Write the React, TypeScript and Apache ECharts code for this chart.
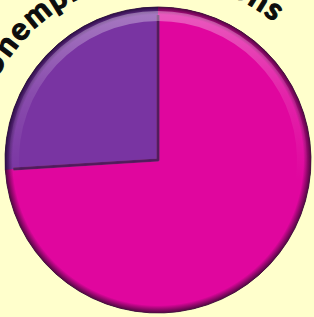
import React, { useEffect, useRef } from "react";
import * as echarts from "echarts";

const categories = ["Persons A", "Persons B"];
const values = [74, 26];
const faceColors = ["#E0069E", "#7934A2"];
const rimDark = ["#4E0840", "#2A0E42"];
const edgeColors = ["rgba(255,110,205,0.6)", "rgba(45,12,70,0.75)"];
const titleText = "Unemployed Persons";

export default function App() {
  const ref = useRef<HTMLDivElement>(null);
  useEffect(() => {
    if (!ref.current) return;
    const chart = echarts.init(ref.current, undefined, { renderer: "svg" });
    const cx = 158, cy = 160, PR = 153;
    const acx = 158, acy = 162, R = 178;
    const font = "bold 31px Lato";
    const ctx = document.createElement("canvas").getContext("2d")!;
    ctx.font = font;
    const chars = titleText.split("");
    const widths = chars.map((c) => ctx.measureText(c).width);
    const base: number[] = [];
    let acc = 0;
    widths.forEach((w) => { base.push(acc + w / 2); acc += w; });
    const i1 = 1, i2 = 16;
    const a1 = (-52.5 * Math.PI) / 180, a2 = (32 * Math.PI) / 180;
    const sp = ((a2 - a1) * R - (base[i2] - base[i1])) / (i2 - i1);
    const off = a1 - (base[i1] + i1 * sp) / R;
    const letters = chars.map((c, i) => {
      const th = (base[i] + i * sp) / R + off;
      return {
        type: "text",
        x: acx + R * Math.sin(th),
        y: acy - R * Math.cos(th),
        rotation: -th,
        z: 0,
        style: {
          text: c,
          font,
          fill: "#0d0d0d",
          stroke: "#0d0d0d",
          lineWidth: 1.2,
          align: "center",
          verticalAlign: "bottom",
          shadowColor: "rgba(0,0,0,0.35)",
          shadowBlur: 2,
          shadowOffsetX: 1,
          shadowOffsetY: 1,
        },
      };
    });
    const radial = (i: number) =>
      new echarts.graphic.RadialGradient(cx, cy, PR, [
        { offset: 0, color: faceColors[i] },
        { offset: 0.95, color: faceColors[i] },
        { offset: 1, color: rimDark[i] },
      ], true);
    const highlight = new echarts.graphic.LinearGradient(0, cy - PR, 0, cy + 20, [
      { offset: 0, color: "rgba(255,255,255,0.35)" },
      { offset: 0.5, color: "rgba(255,255,255,0.12)" },
      { offset: 1, color: "rgba(255,255,255,0)" },
    ], true);
    const common = {
      type: "pie",
      center: [cx, cy],
      startAngle: 90,
      clockwise: true,
      label: { show: false },
      labelLine: { show: false },
      silent: true,
    };
    chart.setOption({
      animation: false,
      backgroundColor: "#FFFFCC",
      graphic: letters,
      series: [
        {
          ...common,
          z: 2,
          radius: [0, PR],
          data: categories.map((n, i) => ({
            name: n,
            value: values[i],
            itemStyle: { color: radial(i), borderColor: "#2a0830", borderWidth: 0.8 },
          })),
        },
        {
          ...common,
          z: 3,
          radius: [0, PR - 4],
          data: categories.map((n, i) => ({
            name: n,
            value: values[i],
            itemStyle: {
              color: "rgba(0,0,0,0)",
              borderColor: edgeColors[i],
              borderWidth: 3,
            },
          })),
        },
        {
          ...common,
          z: 4,
          radius: [PR - 8, PR],
          data: categories.map((n, i) => ({
            name: n,
            value: values[i],
            itemStyle: { color: radial(i), borderWidth: 0 },
          })),
        },
        {
          ...common,
          z: 5,
          radius: [PR - 14, PR - 4],
          data: categories.map((n, i) => ({
            name: n,
            value: values[i],
            itemStyle: { color: highlight, borderWidth: 0 },
          })),
        },
      ],
    });
    return () => chart.dispose();
  }, []);
  return (
    <div
      ref={ref}
      style={{ position: "fixed", left: 0, top: 0, width: 314, height: 317 }}
    />
  );
}
